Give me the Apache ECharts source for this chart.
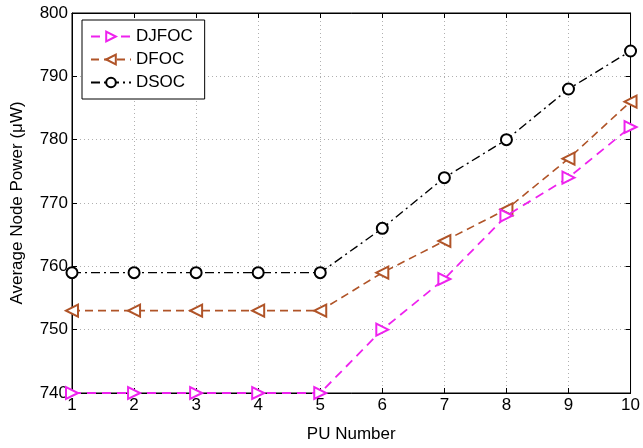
<!DOCTYPE html>
<html>
<head>
<meta charset="utf-8">
<script src="https://cdn.jsdelivr.net/npm/echarts@6/dist/echarts.min.js"></script>
<style>
  html, body { margin: 0; padding: 0; background: #fff; }
  #main { width: 643px; height: 448px; }
</style>
</head>
<body>
<div id="main"></div>
<script>
// data
var puNumber = [1, 2, 3, 4, 5, 6, 7, 8, 9, 10];
var djfoc = [740, 740, 740, 740, 740, 750, 758, 768, 774, 782];
var dfoc  = [753, 753, 753, 753, 753, 759, 764, 769, 777, 786];
var dsoc  = [759, 759, 759, 759, 759, 766, 774, 780, 788, 794];

function pairs(ys) {
    return puNumber.map(function (x, i) { return [x, ys[i]]; });
}

var font = 'Liberation Sans, Arial, sans-serif';
var myChart = echarts.init(document.getElementById('main'));

var gridLine = { show: true, lineStyle: { color: '#b0b0b0', type: [1, 3], width: 1 } };

myChart.setOption({
    animation: false,
    textStyle: { fontFamily: font },
    grid: { left: 72, top: 13, right: 11, bottom: 53, show: true, borderColor: '#000', borderWidth: 1 },
    legend: {
        orient: 'vertical',
        left: 82,
        top: 20,
        padding: [8, 12, 8, 8],
        itemGap: 6,
        itemWidth: 40,
        itemHeight: 12,
        backgroundColor: '#fff',
        borderColor: '#000',
        borderWidth: 1,
        textStyle: { fontSize: 17, color: '#000', fontFamily: font },
        data: ['DJFOC', 'DFOC', 'DSOC']
    },
    xAxis: [{
        type: 'value',
        min: 1, max: 10, interval: 1,
        name: 'PU Number',
        nameLocation: 'middle',
        nameGap: 33,
        nameTextStyle: { fontSize: 17, color: '#000' },
        axisLine: { lineStyle: { color: '#000' } },
        axisTick: { inside: true, length: 5, lineStyle: { color: '#000' } },
        axisLabel: { fontSize: 17, color: '#000', margin: 4 },
        splitLine: gridLine
    }, {
        type: 'value', position: 'top',
        min: 1, max: 10, interval: 1,
        axisLine: { lineStyle: { color: '#000' } },
        axisTick: { inside: true, length: 5, lineStyle: { color: '#000' } },
        axisLabel: { show: false },
        splitLine: { show: false }
    }],
    yAxis: [{
        type: 'value',
        min: 740, max: 800, interval: 10,
        name: 'Average Node Power (\u03bcW)',
        nameLocation: 'middle',
        nameGap: 46,
        nameTextStyle: { fontSize: 17, color: '#000' },
        axisLine: { show: true, lineStyle: { color: '#000' } },
        axisTick: { show: true, inside: true, length: 5, lineStyle: { color: '#000' } },
        axisLabel: { fontSize: 17, color: '#000', margin: 4 },
        splitLine: gridLine
    }, {
        type: 'value', position: 'right',
        min: 740, max: 800, interval: 10,
        axisLine: { show: true, lineStyle: { color: '#000' } },
        axisTick: { show: true, inside: true, length: 5, lineStyle: { color: '#000' } },
        axisLabel: { show: false },
        splitLine: { show: false }
    }],
    series: [{
        name: 'DJFOC',
        type: 'line',
        data: pairs(djfoc),
        symbol: 'emptyTriangle',
        symbolRotate: -90,
        symbolSize: 12,
        lineStyle: { color: '#ee22ee', width: 1.8, type: [9, 6] },
        itemStyle: { color: '#ee22ee', borderWidth: 1.5 },
        z: 4
    }, {
        name: 'DFOC',
        type: 'line',
        data: pairs(dfoc),
        symbol: 'emptyTriangle',
        symbolRotate: 90,
        symbolSize: 12,
        lineStyle: { color: '#b05428', width: 1.6, type: [8, 5] },
        itemStyle: { color: '#b05428', borderWidth: 1.5 },
        z: 3
    }, {
        name: 'DSOC',
        type: 'line',
        data: pairs(dsoc),
        symbol: 'emptyCircle',
        symbolSize: 11,
        lineStyle: { color: '#000', width: 1.4, type: [9, 4, 2, 4] },
        itemStyle: { color: '#000', borderWidth: 1.4 },
        z: 2
    }]
});
</script>
</body>
</html>
